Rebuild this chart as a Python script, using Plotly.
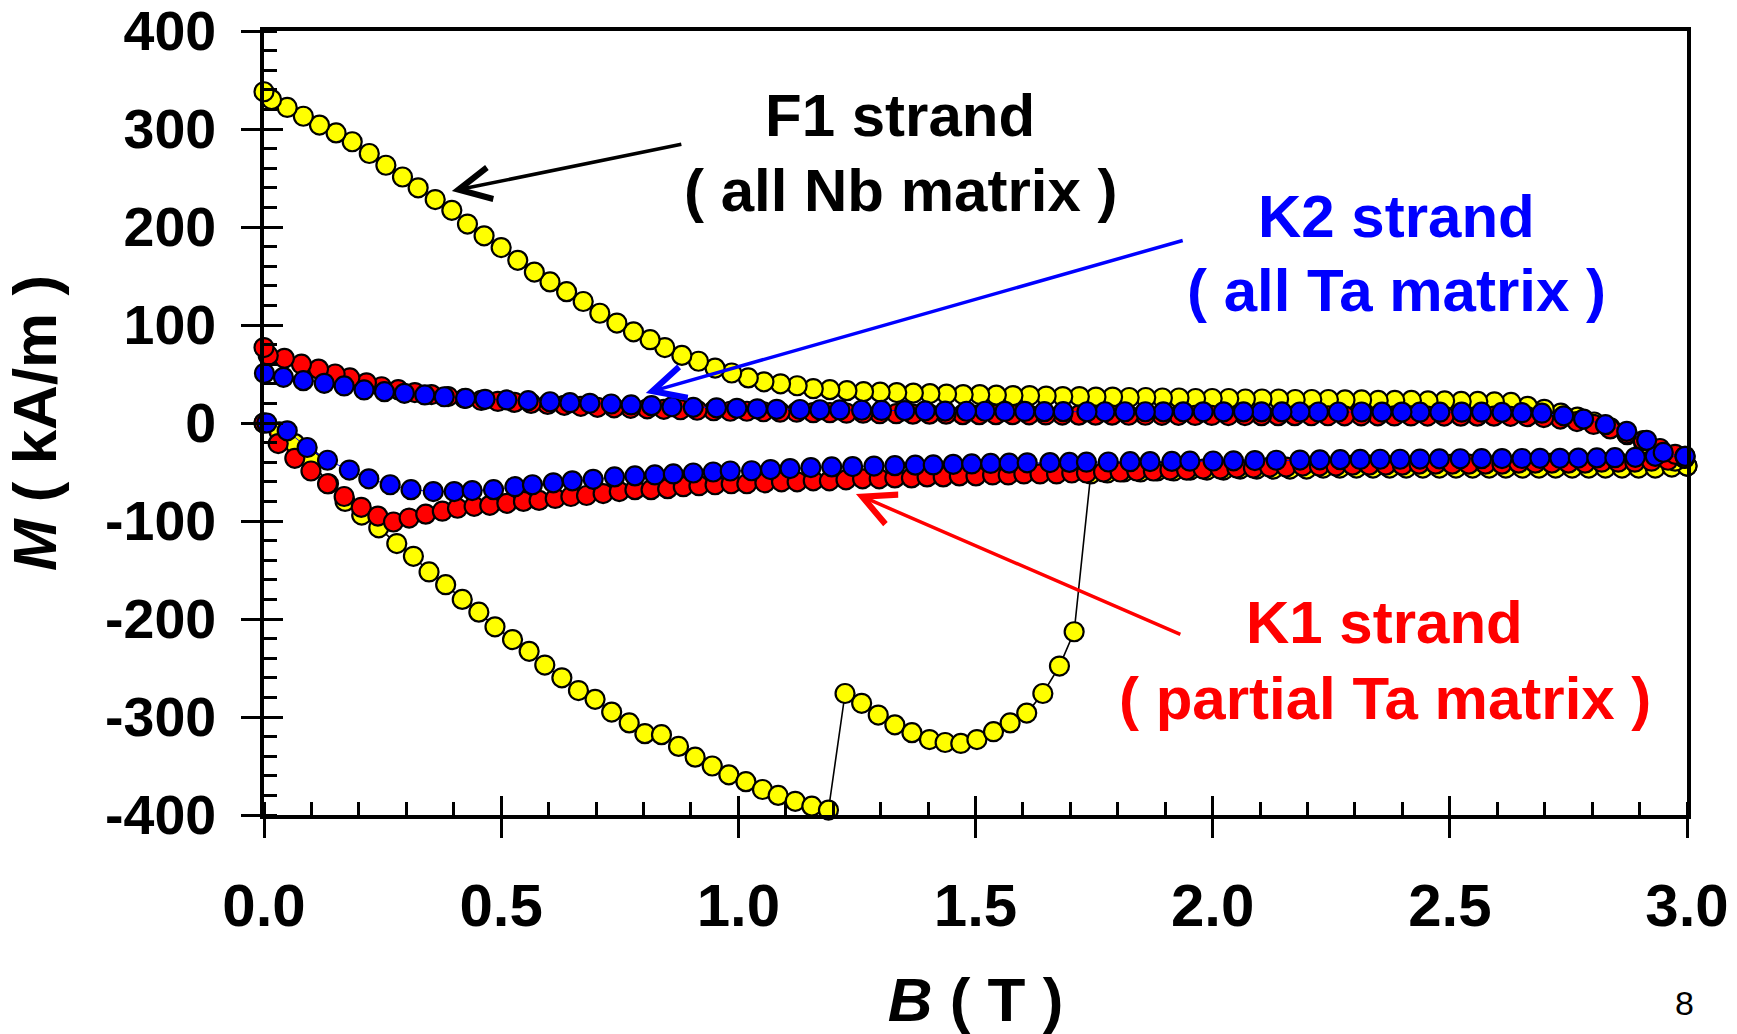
import plotly.graph_objects as go

# ---------------- data ----------------
# F1 strand (yellow): field-up branch
f1_up_B = [0.000, 0.032, 0.065, 0.100, 0.136, 0.171, 0.206, 0.242, 0.280, 0.315, 0.348, 0.383, 0.418, 0.453,
           0.487, 0.524, 0.559, 0.592, 0.628, 0.663, 0.698, 0.733, 0.770, 0.803, 0.838, 0.874, 0.909, 0.945,
           0.980, 1.016, 1.051, 1.084, 1.120, 1.155, 1.190, 1.225, 1.260, 1.295, 1.330, 1.366, 1.403, 1.436,
           1.469, 1.503, 1.538, 1.573, 1.608, 1.642, 1.677, 1.708, 1.743, 1.778, 1.813, 1.848, 1.883, 1.918,
           1.953, 1.988, 2.023, 2.058, 2.093, 2.128, 2.163, 2.198, 2.233, 2.268, 2.303, 2.338, 2.373, 2.408,
           2.443, 2.478, 2.513, 2.548, 2.583, 2.618, 2.653, 2.688, 2.723, 2.758, 2.793, 2.828, 2.863, 2.898,
           2.933, 2.968, 3.000]
f1_up_M = [0, -9, -21, -39, -62, -80, -94, -107, -123, -136, -152, -165, -180, -193,
           -208, -221, -233, -247, -260, -273, -282, -295, -306, -317, -318, -330, -341, -350,
           -359, -366, -374, -380, -386, -391, -395, -276, -286, -298, -308, -316, -323, -326,
           -327, -323, -315, -306, -296, -276, -248, -213, -52, -51, -50, -50, -49, -49,
           -48, -48, -48, -47, -47, -47, -47, -47, -46, -46, -46, -46, -46, -46,
           -46, -46, -46, -46, -46, -46, -46, -46, -46, -46, -46, -46, -46, -46,
           -46, -45, -44]
# F1 strand (yellow): field-down branch (listed with increasing B)
f1_dn_B = [0.000, 0.016, 0.049, 0.083, 0.117, 0.152, 0.186, 0.222, 0.257, 0.292, 0.325, 0.361, 0.396, 0.429,
           0.464, 0.500, 0.535, 0.570, 0.603, 0.638, 0.673, 0.708, 0.744, 0.779, 0.814, 0.845, 0.881, 0.916,
           0.951, 0.986, 1.021, 1.054, 1.089, 1.124, 1.158, 1.193, 1.229, 1.264, 1.299, 1.334, 1.369, 1.404,
           1.439, 1.474, 1.509, 1.544, 1.579, 1.614, 1.649, 1.684, 1.719, 1.754, 1.789, 1.824, 1.859, 1.894,
           1.929, 1.964, 1.999, 2.034, 2.069, 2.104, 2.139, 2.174, 2.209, 2.244, 2.279, 2.314, 2.349, 2.384,
           2.419, 2.454, 2.489, 2.524, 2.559, 2.594, 2.629, 2.664, 2.699, 2.734, 2.769, 2.804, 2.839, 2.874,
           2.909, 2.944, 2.975, 3.000]
f1_dn_M = [338, 330, 322, 313, 304, 296, 287, 275, 263, 251, 240, 228, 217, 203,
           191, 179, 166, 154, 144, 134, 124, 112, 102, 93, 85, 77, 69, 63,
           56, 51, 46, 42, 40, 38, 35, 34, 33, 32, 31.5, 31, 30.5, 30,
           29.5, 29, 29, 28.5, 28, 28, 27.5, 27, 27, 26.5, 26.5, 26, 26, 25.5,
           25.5, 25, 25, 25, 24.5, 24.5, 24.5, 24, 24, 24, 23.5, 23.5, 23, 23,
           23, 22.5, 22.5, 22, 22, 21.5, 21, 17, 14, 10, 6, 1, -5, -12,
           -21, -31, -39, -44]

# K1 strand (red): field-up branch
k1_up_B = [0.000, 0.030, 0.065, 0.099, 0.134, 0.169, 0.205, 0.240, 0.273, 0.306, 0.341, 0.376, 0.408, 0.443,
           0.476, 0.512, 0.547, 0.580, 0.614, 0.647, 0.680, 0.715, 0.749, 0.782, 0.816, 0.851, 0.884, 0.917,
           0.951, 0.985, 1.018, 1.056, 1.091, 1.124, 1.158, 1.192, 1.227, 1.262, 1.297, 1.330, 1.365, 1.398,
           1.432, 1.466, 1.501, 1.536, 1.569, 1.602, 1.636, 1.671, 1.703, 1.734, 1.770, 1.805, 1.840, 1.875,
           1.910, 1.945, 1.980, 2.016, 2.051, 2.086, 2.120, 2.155, 2.190, 2.225, 2.260, 2.295, 2.330, 2.365,
           2.400, 2.435, 2.470, 2.505, 2.540, 2.575, 2.610, 2.645, 2.680, 2.715, 2.750, 2.785, 2.820, 2.855,
           2.890, 2.925, 2.960, 2.995]
k1_up_M = [0, -21, -36, -49, -62, -75, -86, -95, -101, -97, -93, -90, -87, -85,
           -84, -82, -80, -79, -77, -75, -74, -72, -70, -68, -68, -67, -65, -64,
           -63, -62, -62, -61, -60, -60, -59, -59, -58, -57, -57, -56, -56, -55,
           -55, -54, -54, -53, -53, -52, -52, -52, -51, -51, -50, -50, -49, -49,
           -48, -48, -47, -47, -46, -46, -45, -45, -44, -44, -44, -43, -43, -43,
           -43, -42, -42, -42, -42, -42, -42, -41, -41, -41, -41, -41, -40, -40,
           -40, -39, -38, -36]
# K1 strand (red): field-down branch (listed with increasing B)
k1_dn_B = [0.000, 0.009, 0.043, 0.079, 0.115, 0.150, 0.181, 0.216, 0.248, 0.283, 0.318, 0.353, 0.388, 0.423,
           0.458, 0.493, 0.528, 0.563, 0.598, 0.633, 0.668, 0.703, 0.738, 0.773, 0.808, 0.843, 0.878, 0.913,
           0.948, 0.983, 1.018, 1.053, 1.088, 1.123, 1.158, 1.193, 1.228, 1.263, 1.298, 1.333, 1.368, 1.403,
           1.438, 1.473, 1.508, 1.543, 1.578, 1.613, 1.648, 1.683, 1.718, 1.753, 1.788, 1.823, 1.858, 1.893,
           1.928, 1.963, 1.998, 2.033, 2.068, 2.103, 2.138, 2.173, 2.208, 2.243, 2.278, 2.313, 2.348, 2.383,
           2.418, 2.453, 2.488, 2.523, 2.558, 2.593, 2.628, 2.663, 2.698, 2.733, 2.768, 2.803, 2.838, 2.873,
           2.908, 2.943, 2.975, 2.995]
k1_dn_M = [77, 69, 66, 60, 55, 50, 46, 41, 37, 34, 31, 29, 27, 25,
           23, 22, 21, 20, 19, 18, 17, 16, 15.5, 15, 14.5, 14, 13.5, 13,
           12.5, 12, 12, 11.5, 11, 11, 10.5, 10.5, 10, 10, 9.5, 9.5, 9, 9,
           9, 8.5, 8.5, 8.5, 8.5, 8.3, 8.2, 8.1, 8, 8, 8, 7.9, 7.9, 7.8,
           7.8, 7.7, 7.7, 7.6, 7.6, 7.5, 7.5, 7.5, 7.4, 7.4, 7.3, 7.3, 7.3, 7.2,
           7.2, 7.1, 7.1, 7, 7, 7, 6.8, 6.5, 5.5, 4, 1.5, -1.5, -6, -11,
           -18, -26, -32, -36]

# K2 strand (blue): field-up branch
k2_up_B = [0.006, 0.049, 0.091, 0.134, 0.180, 0.221, 0.266, 0.310, 0.357, 0.401, 0.439, 0.484, 0.529, 0.566,
           0.610, 0.650, 0.694, 0.739, 0.782, 0.824, 0.863, 0.905, 0.947, 0.983, 1.028, 1.068, 1.109, 1.153,
           1.197, 1.241, 1.286, 1.330, 1.373, 1.411, 1.453, 1.492, 1.532, 1.571, 1.609, 1.657, 1.698, 1.734,
           1.780, 1.826, 1.868, 1.914, 1.952, 2.001, 2.044, 2.089, 2.134, 2.184, 2.226, 2.269, 2.311, 2.353,
           2.395, 2.437, 2.478, 2.522, 2.567, 2.610, 2.652, 2.690, 2.732, 2.771, 2.810, 2.848, 2.891, 2.933,
           2.996]
k2_up_M = [0, -8, -25, -38, -48, -57, -63, -68, -70, -70, -69, -68, -65, -63,
           -61, -59, -57.5, -55, -54, -53, -52, -51, -50, -49, -48.7, -47.5, -46.5, -45.5,
           -44.8, -44.5, -44, -43.5, -43, -42.8, -42.2, -41.8, -41.3, -41, -40.6, -40.4, -40.2, -40,
           -39.8, -39.5, -39.4, -39.2, -39, -38.8, -38.6, -38.3, -38, -37.8, -37.6, -37.4, -37.2, -37,
           -37, -36.8, -36.6, -36.5, -36.4, -36.3, -36.2, -36, -36, -35.8, -35.6, -35.4, -35, -34,
           -34]
# K2 strand (blue): field-down branch (listed with increasing B)
k2_dn_B = [0.001, 0.041, 0.083, 0.127, 0.169, 0.211, 0.254, 0.296, 0.339, 0.380, 0.425, 0.466, 0.512, 0.557,
           0.603, 0.645, 0.687, 0.732, 0.774, 0.817, 0.860, 0.905, 0.954, 0.997, 1.040, 1.081, 1.130, 1.172,
           1.214, 1.260, 1.302, 1.351, 1.394, 1.436, 1.481, 1.520, 1.562, 1.604, 1.645, 1.685, 1.735, 1.773,
           1.815, 1.858, 1.896, 1.938, 1.980, 2.023, 2.065, 2.103, 2.146, 2.184, 2.223, 2.265, 2.314, 2.357,
           2.399, 2.437, 2.479, 2.525, 2.567, 2.610, 2.652, 2.694, 2.740, 2.782, 2.828, 2.873, 2.915, 2.950,
           2.996]
k2_dn_M = [50.7, 46.6, 43.2, 40.5, 37.8, 33.7, 32, 30.3, 28.6, 26.8, 25.2, 24.2, 23.5, 22.8,
           21.7, 20.7, 20.1, 19.4, 18.4, 17.7, 16.6, 16, 15.5, 15, 14.5, 14, 13.8, 13.5,
           13.3, 13, 12.8, 12.6, 12.4, 12.2, 12, 12, 11.8, 11.8, 11.6, 11.6, 11.5, 11.5,
           11.5, 11.5, 11.4, 11.4, 11.4, 11.4, 11.3, 11.3, 11.3, 11.2, 11.2, 11.2, 11.2, 11.1,
           11.1, 11, 11, 11, 11, 10.8, 10.5, 10, 7.3, 4, -1.7, -8.5, -17.7, -30,
           -34]

# tick labels
x_tickvals = [0.0, 0.5, 1.0, 1.5, 2.0, 2.5, 3.0]
x_ticktext = ["0.0", "0.5", "1.0", "1.5", "2.0", "2.5", "3.0"]
y_tickvals = [400, 300, 200, 100, 0, -100, -200, -300, -400]
y_ticktext = ["400", "300", "200", "100", "0", "-100", "-200", "-300", "-400"]

# ---------------- figure ----------------
FONT = "Liberation Sans"
W, H = 1737, 1034
L, R, T, B = 264, 50, 31, 219

fig = go.Figure()

series = [
    (f1_up_B, f1_up_M, f1_dn_B, f1_dn_M, "#FFFF00", "black", 1.6, "F1 strand"),
    (k1_up_B, k1_up_M, k1_dn_B, k1_dn_M, "#FF0000", "#FF0000", 1.0, "K1 strand"),
    (k2_up_B, k2_up_M, k2_dn_B, k2_dn_M, "#0000FF", "#0000FF", 1.0, "K2 strand"),
]
for ub, um, db, dm, fill, lcol, lw, name in series:
    xs = list(ub) + list(reversed(db))
    ys = list(um) + list(reversed(dm))
    fig.add_trace(go.Scatter(
        x=xs, y=ys, mode="lines+markers", name=name,
        line=dict(color=lcol, width=lw),
        marker=dict(symbol="circle", size=19, color=fill, line=dict(color="black", width=2.2)),
        cliponaxis=False, showlegend=False,
    ))

x_tick_font = dict(family=FONT, size=60, color="black", weight="bold")
y_tick_font = dict(family=FONT, size=55.5, color="black", weight="bold")
title_font = dict(family=FONT, size=62, color="black", weight="bold")

fig.update_layout(
    width=W, height=H,
    margin=dict(l=L, r=R, t=T, b=B, autoexpand=False),
    paper_bgcolor="white", plot_bgcolor="white",
    font=dict(family=FONT, color="black"),
    xaxis=dict(
        range=[0, 3], tickmode="array", tickvals=x_tickvals, ticktext=x_ticktext,
        ticks="outside", ticklen=19, tickwidth=3, tickcolor="black",
        minor=dict(tickmode="linear", tick0=0, dtick=0.1, ticks="inside", ticklen=13,
                   tickwidth=3, tickcolor="black", showgrid=False),
        showline=True, linewidth=3.5, linecolor="black", mirror=True,
        showgrid=False, zeroline=False, tickfont=x_tick_font, ticklabelstandoff=16,
        ticklabeloverflow="allow",
        title=dict(text="<i>B</i> ( T )", font=title_font, standoff=48),
        automargin=False,
    ),
    yaxis=dict(
        range=[-400, 400], tickmode="array", tickvals=y_tickvals, ticktext=y_ticktext,
        ticks="outside", ticklen=19, tickwidth=3, tickcolor="black",
        minor=dict(tickmode="linear", tick0=0, dtick=20, ticks="inside", ticklen=13,
                   tickwidth=3, tickcolor="black", showgrid=False),
        showline=True, linewidth=3.5, linecolor="black", mirror=True,
        showgrid=False, zeroline=False, tickfont=y_tick_font, ticklabelstandoff=14,
        ticklabeloverflow="allow",
        title=dict(text="<i>M</i> ( kA/m )", font=title_font, standoff=34),
        automargin=False,
    ),
    # overlay axes drawing the inside half of the major ticks
    xaxis2=dict(overlaying="x", anchor="y", side="bottom", range=[0, 3],
                tickmode="array", tickvals=x_tickvals, ticks="inside", ticklen=19, tickwidth=3,
                tickcolor="black", showticklabels=False, showline=False, showgrid=False, zeroline=False),
    yaxis2=dict(overlaying="y", anchor="x", side="left", range=[-400, 400],
                tickmode="array", tickvals=y_tickvals, ticks="inside", ticklen=19, tickwidth=3,
                tickcolor="black", showticklabels=False, showline=False, showgrid=False, zeroline=False),
)
# invisible trace to activate overlay axes
fig.add_trace(go.Scatter(x=[None], y=[None], xaxis="x2", yaxis="y2", showlegend=False, hoverinfo="skip"))

ann_font = lambda c: dict(family=FONT, size=60, color=c, weight="bold")
labels = [
    ("F1 strand", 1.341, 314, "black"),
    ("( all Nb matrix )", 1.341, 237, "black"),
    ("K2 strand", 2.387, 211, "#0000FF"),
    ("( all Ta matrix )", 2.387, 135, "#0000FF"),
    ("K1 strand", 2.363, -204, "#FF0000"),
    ("( partial Ta matrix )", 2.363, -281, "#FF0000"),
]
for txt, x, y, c in labels:
    fig.add_annotation(x=x, y=y, xref="x", yref="y", text=txt, showarrow=False,
                       font=ann_font(c), xanchor="center", yanchor="middle")

arrows = [
    # (tip x, tip y, tail x, tail y, color)
    (0.396, 236.7, 0.883, 284.7, "black"),
    (0.805, 30.6, 1.940, 186.7, "#0000FF"),
    (1.248, -72.4, 1.935, -216.3, "#FF0000"),
]
for tx, ty, sx, sy, c in arrows:
    fig.add_annotation(x=tx, y=ty, ax=sx, ay=sy, xref="x", yref="y", axref="x", ayref="y",
                       text="", showarrow=True, arrowhead=5, arrowsize=1.8, arrowwidth=3.5,
                       arrowcolor=c)

fig.add_annotation(x=0.998, y=-0.24, xref="paper", yref="paper", text="8", showarrow=False,
                   font=dict(family=FONT, size=34, color="black"), xanchor="center", yanchor="middle")

# remove the page's default body margin so the 1737x1034 figure fills the window exactly
fig.write_html("out.html", config={"displayModeBar": False},
               post_script="document.body.style.margin='0px';")
